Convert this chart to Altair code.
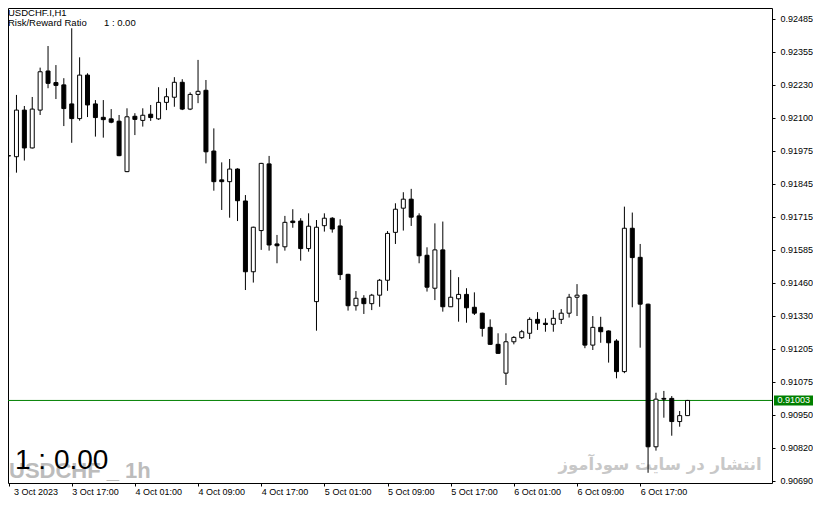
import json
import altair as alt
import pandas as pd

# USDCHF.I H1 candles, 3 Oct 2023 09:00 .. 6 Oct 2023 23:00
hours = pd.date_range("2023-10-03 09:00", periods=87, freq="h").strftime("%d %b %H:%M").tolist()

opens = [0.91953, 0.91950, 0.92131, 0.91984, 0.92131, 0.92283, 0.92238, 0.92229, 0.92155, 0.92098,
         0.92267, 0.92155, 0.92103, 0.92097, 0.92088, 0.91892, 0.92107, 0.92091, 0.92115, 0.92097,
         0.92161, 0.92181, 0.92239, 0.92135, 0.92192, 0.92208, 0.91972, 0.91860, 0.91853, 0.91902,
         0.91778, 0.91503, 0.91663, 0.91922, 0.91611, 0.91600, 0.91700, 0.91700, 0.91593, 0.91387,
         0.91682, 0.91711, 0.91681, 0.91493, 0.91371, 0.91400, 0.91379, 0.91412, 0.91470, 0.91656,
         0.91750, 0.91785, 0.91720, 0.91567, 0.91439, 0.91588, 0.91367, 0.91398, 0.91415, 0.91365,
         0.91342, 0.91287, 0.91221, 0.91109, 0.91231, 0.91247, 0.91264, 0.91318, 0.91303, 0.91299,
         0.91318, 0.91342, 0.91404, 0.91413, 0.91218, 0.91287, 0.91273, 0.91234, 0.91115, 0.91672,
         0.91559, 0.91377, 0.90823, 0.91011, 0.91011, 0.90921, 0.90944]
highs = [0.92163, 0.92190, 0.92147, 0.92182, 0.92296, 0.92380, 0.92306, 0.92255, 0.92449, 0.92336,
         0.92274, 0.92170, 0.92170, 0.92135, 0.92112, 0.92138, 0.92119, 0.92138, 0.92151, 0.92220,
         0.92216, 0.92259, 0.92251, 0.92200, 0.92326, 0.92248, 0.92060, 0.91928, 0.91941, 0.91905,
         0.91801, 0.91678, 0.91926, 0.91953, 0.91646, 0.91720, 0.91746, 0.91711, 0.91730, 0.91704,
         0.91730, 0.91715, 0.91707, 0.91495, 0.91428, 0.91412, 0.91417, 0.91475, 0.91661, 0.91769,
         0.91812, 0.91825, 0.91730, 0.91598, 0.91691, 0.91698, 0.91510, 0.91482, 0.91439, 0.91423,
         0.91344, 0.91318, 0.91264, 0.91264, 0.91253, 0.91277, 0.91326, 0.91346, 0.91322, 0.91354,
         0.91358, 0.91417, 0.91455, 0.91415, 0.91331, 0.91328, 0.91275, 0.91241, 0.91756, 0.91733,
         0.91611, 0.91379, 0.91033, 0.91040, 0.91020, 0.90962, 0.91005]
lows = [0.91871, 0.91888, 0.91935, 0.91982, 0.92112, 0.92216, 0.92174, 0.92069, 0.92004, 0.92090,
        0.92104, 0.92028, 0.92024, 0.92080, 0.91952, 0.91890, 0.92034, 0.92067, 0.92089, 0.92093,
        0.92131, 0.92144, 0.92131, 0.92131, 0.92158, 0.91924, 0.91818, 0.91743, 0.91713, 0.91700,
        0.91432, 0.91461, 0.91588, 0.91585, 0.91536, 0.91585, 0.91674, 0.91546, 0.91581, 0.91274,
        0.91659, 0.91655, 0.91471, 0.91352, 0.91352, 0.91339, 0.91354, 0.91367, 0.91429, 0.91611,
        0.91663, 0.91681, 0.91536, 0.91426, 0.91393, 0.91348, 0.91366, 0.91309, 0.91305, 0.91335,
        0.91251, 0.91219, 0.91184, 0.91063, 0.91221, 0.91242, 0.91242, 0.91277, 0.91270, 0.91270,
        0.91300, 0.91325, 0.91331, 0.91206, 0.91199, 0.91227, 0.91150, 0.91089, 0.91109, 0.91365,
        0.91208, 0.90722, 0.90808, 0.90936, 0.90866, 0.90901, 0.90944]
closes = [0.91954, 0.92131, 0.91984, 0.92135, 0.92280, 0.92235, 0.92227, 0.92137, 0.92098, 0.92267,
          0.92151, 0.92102, 0.92094, 0.92084, 0.91954, 0.92105, 0.92095, 0.92111, 0.92102, 0.92161,
          0.92183, 0.92239, 0.92135, 0.92192, 0.92204, 0.91969, 0.91853, 0.91853, 0.91902, 0.91779,
          0.91503, 0.91676, 0.91924, 0.91607, 0.91604, 0.91695, 0.91694, 0.91593, 0.91680, 0.91676,
          0.91711, 0.91669, 0.91492, 0.91371, 0.91400, 0.91379, 0.91412, 0.91470, 0.91652, 0.91746,
          0.91785, 0.91715, 0.91565, 0.91443, 0.91588, 0.91367, 0.91404, 0.91415, 0.91363, 0.91342,
          0.91283, 0.91221, 0.91186, 0.91231, 0.91248, 0.91270, 0.91318, 0.91303, 0.91298, 0.91322,
          0.91342, 0.91404, 0.91412, 0.91218, 0.91287, 0.91270, 0.91227, 0.91115, 0.91672, 0.91558,
          0.91377, 0.90823, 0.91008, 0.91008, 0.90921, 0.90944, 0.91003]

x_tick_pos = [0, 8, 16, 24, 32, 40, 48, 56, 64, 72, 80]
x_tick_labels = ["3 Oct 2023", "3 Oct 17:00", "4 Oct 01:00", "4 Oct 09:00", "4 Oct 17:00",
                 "5 Oct 01:00", "5 Oct 09:00", "5 Oct 17:00", "6 Oct 01:00", "6 Oct 09:00",
                 "6 Oct 17:00"]
y_tick_labels = ["0.92485", "0.92355", "0.92230", "0.92100", "0.91975", "0.91845", "0.91715",
                 "0.91585", "0.91460", "0.91330", "0.91205", "0.91075", "0.90950", "0.90820",
                 "0.90690"]
y_label_top = 0.92485
y_label_step = 0.00128205
bid = 0.91003

FONT = "Liberation Sans"
GREEN = "#008000"

df = pd.DataFrame({"i": range(len(opens)), "hour": hours, "open": opens,
                   "high": highs, "low": lows, "close": closes})
one = pd.DataFrame({"k": [0]})

x_axis = alt.Axis(values=x_tick_pos, title=None, grid=False, domain=False,
                  labelExpr=f"{json.dumps(x_tick_labels)}[round(datum.value / 8)]",
                  labelAlign="left", labelFlush=False, labelOverlap=False, labelBound=False,
                  labelOffset={"condition": {"test": "datum.value == 0", "value": 5}, "value": 0},
                  tickSize=3, labelPadding=1)
x_enc = alt.X("i:Q", scale=alt.Scale(domain=[0.5625, 96.0625], nice=False, zero=False), axis=x_axis)

y_scale = alt.Scale(domain=[0.906823, 0.925277], nice=False, zero=False)
y_axis = alt.Axis(orient="right", title=None, grid=False, domain=False,
                  values=[round(y_label_top - k * y_label_step, 6) for k in range(len(y_tick_labels))],
                  labelExpr=f"{json.dumps(y_tick_labels)}[round(({y_label_top} - datum.value) / {y_label_step})]",
                  tickSize=3, labelPadding=5, labelOverlap=False, labelFlush=False)


def note(text, x, y, **kw):
    return alt.Chart(one).mark_text(text=text, **kw).encode(x=alt.value(x), y=alt.value(y))


# watermarks behind the candles
wm_symbol = note("USDCHF _ 1h", 1, 470, font=FONT, fontSize=22, fontWeight="bold",
                 color="#bcbcbc", align="left", baseline="alphabetic")
wm_site = note("انتشار در سایت سودآموز", 652, 457, font="DejaVu Sans", fontSize=16.5,
               fontWeight="bold", color="#c8c8c8", align="center", baseline="middle")

bid_line = alt.Chart(one).mark_rule(color=GREEN, strokeWidth=1).encode(
    y=alt.Y(datum=bid, scale=y_scale, axis=y_axis))

wicks = alt.Chart(df).mark_rule(color="black", strokeWidth=1, clip=True).encode(
    x=x_enc, y=alt.Y("low:Q", scale=y_scale, axis=y_axis), y2="high:Q")

bodies = alt.Chart(df).mark_bar(size=4, stroke="black", strokeWidth=1, clip=True).encode(
    x=x_enc,
    y=alt.Y("open:Q", scale=y_scale, axis=y_axis),
    y2="close:Q",
    fill=alt.condition("datum.close < datum.open", alt.value("black"), alt.value("white")),
)

bid_box = alt.Chart(one).mark_point(
    shape="M-1,-0.26L1,-0.26L1,0.26L-1,0.26Z", size=1521, filled=True,
    color=GREEN, opacity=1, strokeWidth=0
).encode(x=alt.value(785.5), y=alt.Y(datum=bid, scale=y_scale, axis=y_axis))
bid_text = alt.Chart(one).mark_text(
    text=f"{bid:.5f}", color="white", font=FONT, fontSize=9, align="left", baseline="middle"
).encode(x=alt.value(769.5), y=alt.Y(datum=bid, scale=y_scale, axis=y_axis))

title_sym = note("USDCHF.I,H1", 0, 5, font=FONT, fontSize=9.5, color="black",
                 align="left", baseline="middle")
title_rr = note("Risk/Reward Ratio", 0, 15, font=FONT, fontSize=9.5, color="black",
                align="left", baseline="middle")
title_rr_val = note("1 : 0.00", 96, 15, font=FONT, fontSize=9.5, color="black",
                    align="left", baseline="middle")
big_ratio = note("1 : 0.00", 7, 461, font=FONT, fontSize=28, color="black",
                 align="left", baseline="alphabetic")

chart = alt.layer(
    wm_symbol, wm_site, bid_line, wicks, bodies, bid_box, bid_text,
    title_sym, title_rr, title_rr_val, big_ratio
).properties(
    width=764, height=475,
    padding={"left": 0, "top": 0, "right": 41, "bottom": 15},
    autosize=alt.AutoSizeParams(type="none"),
    background="white",
).configure_view(
    stroke="black", strokeWidth=1
).configure_axis(
    labelFont=FONT, labelFontSize=9, labelColor="black", tickColor="black", tickWidth=1
)

chart.save("out.html", embed_options={"renderer": "svg", "actions": False})
